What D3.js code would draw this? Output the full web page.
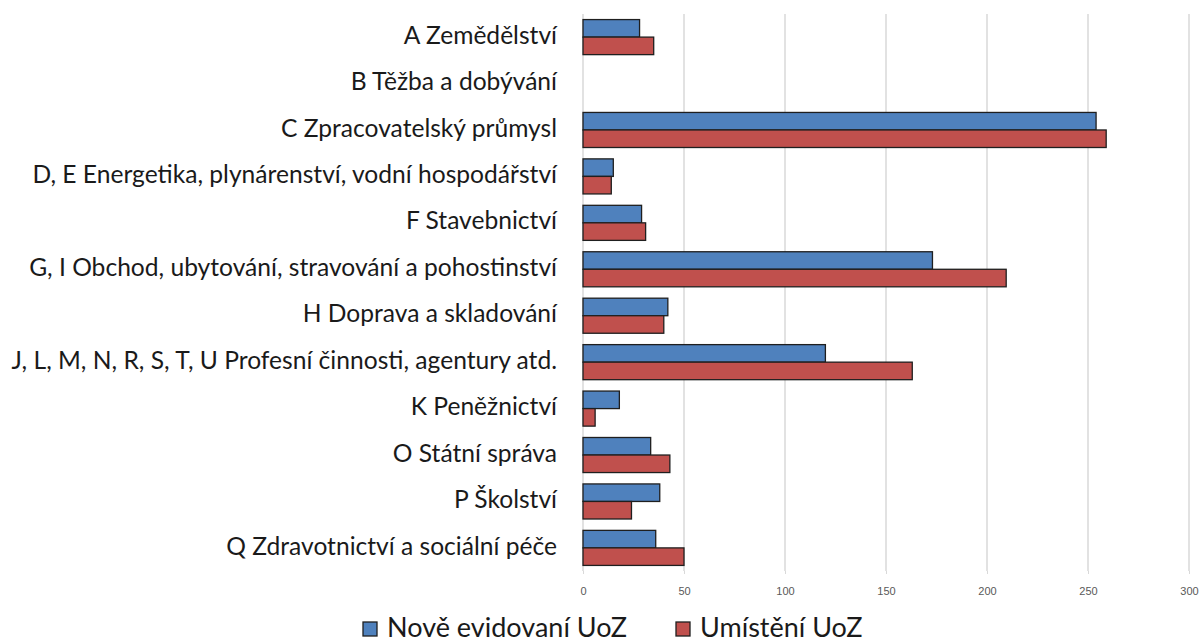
<!DOCTYPE html>
<html>
<head>
<meta charset="utf-8">
<script src="https://cdn.jsdelivr.net/npm/d3@7"></script>
<style>
  body { margin: 0; background: #fff; }
  svg { display: block; }
</style>
</head>
<body>
<div class="chartDiv"></div>
<script>
(function(){
  // data
  var categories = [
    "A Zemědělství",
    "B Těžba a dobývání",
    "C Zpracovatelský průmysl",
    "D, E Energetika, plynárenství, vodní hospodářství",
    "F Stavebnictví",
    "G, I Obchod, ubytování, stravování a pohostinství",
    "H Doprava a skladování",
    "J, L, M, N, R, S, T, U Profesní činnosti, agentury atd.",
    "K Peněžnictví",
    "O Státní správa",
    "P Školství",
    "Q Zdravotnictví a sociální péče"
  ];
  var noveEvidovani = [28, 0, 254, 15, 29, 173, 42, 120, 18, 33.5, 38, 36];
  var umisteni      = [35, 0, 259, 14, 31, 209.5, 40, 163, 6, 43, 24, 50];
  var seriesNames   = ["Nově evidovaní UoZ", "Umístění UoZ"];
  var seriesColors  = ["#4F81BD", "#C0504D"];
  var xTicks        = [0, 50, 100, 150, 200, 250, 300];

  var width  = 1201,
      height = 643,
      margin = {top: 14, right: 12, bottom: 72, left: 583};

  var svg = d3.select(".chartDiv").append("svg")
              .attr("width", width)
              .attr("height", height);

  var g = svg.append("g")
             .attr("transform", "translate(" + margin.left + "," + margin.top + ")");

  var x = d3.scaleLinear().domain([0, 300]).range([0, 606]);
  var y = d3.scaleBand().domain(categories).range([0, 557]).paddingInner(0.245).paddingOuter(0.12);
  var ySub = d3.scaleBand().domain([0, 1]).range([0, y.bandwidth()]);

  //gridlines
  g.selectAll(".grid").data(xTicks).enter().append("line")
   .attr("x1", function(d){ return x(d); }).attr("x2", function(d){ return x(d); })
   .attr("y1", 0).attr("y2", 557)
   .attr("stroke", "#d9d9d9").attr("stroke-width", 1.5);

  //x axis (ticks only, no domain)
  var xAxis = g.append("g")
     .attr("transform", "translate(0,557)")
     .call(d3.axisBottom(x).tickValues(xTicks).tickSize(3).tickPadding(13));
  xAxis.select(".domain").remove();
  xAxis.selectAll(".tick line").attr("stroke", "#d9d9d9");
  xAxis.selectAll(".tick text")
       .attr("fill", "#595959")
       .style("font-family", "'Liberation Sans', Arial, sans-serif")
       .style("font-size", "11px");

  //category labels
  g.selectAll(".catLabel").data(categories).enter().append("text")
   .attr("x", -26)
   .attr("y", function(d){ return y(d) + y.bandwidth() / 2; })
   .attr("dy", "0.27em")
   .attr("text-anchor", "end")
   .attr("fill", "#1a1a1a")
   .style("font-family", "Lato, sans-serif")
   .style("font-size", "24.6px")
   .text(function(d){ return d; });

  //bars
  var rows = categories.map(function(c, i){ return [noveEvidovani[i], umisteni[i]]; });
  var groups = g.selectAll(".cat").data(rows).enter().append("g")
     .attr("transform", function(d, i){ return "translate(0," + y(categories[i]) + ")"; });
  groups.selectAll("rect").data(function(d){ return d; }).enter().append("rect")
     .filter(function(d){ return d > 0; })
     .attr("x", x(0))
     .attr("y", function(d, j){ return ySub(j); })
     .attr("width", function(d){ return x(d) - x(0); })
     .attr("height", ySub.bandwidth())
     .attr("fill", function(d, j){ return seriesColors[j]; })
     .attr("stroke", "#1f1f1f")
     .attr("stroke-width", 1.3);

  //legend
  var legendX = [363, 676];
  var legend = svg.selectAll(".legend").data(seriesNames).enter().append("g")
     .attr("transform", function(d, i){ return "translate(" + legendX[i] + ",622)"; });
  legend.append("rect")
     .attr("width", 14).attr("height", 14)
     .attr("fill", function(d, i){ return seriesColors[i]; })
     .attr("stroke", "#1f1f1f").attr("stroke-width", 1.3);
  legend.append("text")
     .attr("x", 24).attr("y", 15)
     .attr("fill", "#1a1a1a")
     .style("font-family", "Lato, sans-serif")
     .style("font-size", "27px")
     .text(function(d){ return d; });
})()
</script>
</body>
</html>
